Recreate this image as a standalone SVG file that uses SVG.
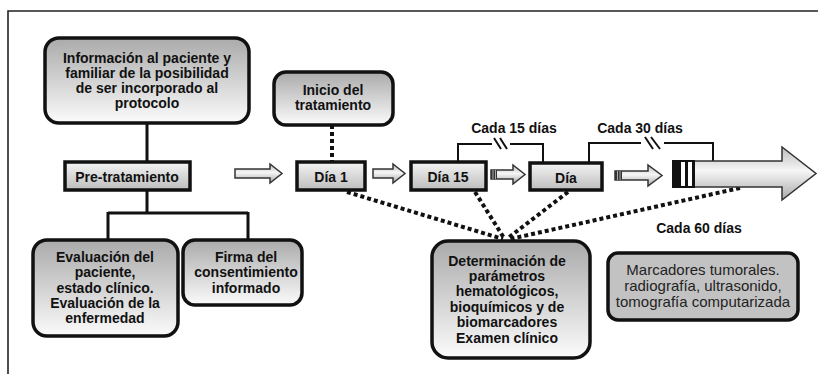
<svg xmlns="http://www.w3.org/2000/svg" width="818" height="374" viewBox="0 0 818 374">
<defs>
<linearGradient id="gBox" x1="0" y1="0" x2="0" y2="1">
<stop offset="0" stop-color="#aaaaaa"/><stop offset="1" stop-color="#fbfbfb"/>
</linearGradient>
<linearGradient id="gDay" x1="0" y1="0" x2="0" y2="1">
<stop offset="0" stop-color="#f4f4f4"/><stop offset="1" stop-color="#bdbdbd"/>
</linearGradient>
<linearGradient id="gArr" x1="0" y1="0" x2="0" y2="1">
<stop offset="0" stop-color="#bdbdbd"/><stop offset="0.45" stop-color="#f6f6f6"/><stop offset="1" stop-color="#a8a8a8"/>
</linearGradient>
<style>
.rb{fill:url(#gBox);stroke:#111;stroke-width:3.5}
.db{fill:url(#gDay);stroke:#111;stroke-width:3.5}
.t{font-family:"Liberation Sans",Arial,sans-serif;font-size:14px;font-weight:bold;fill:#111;text-anchor:middle}
.tn{font-family:"Liberation Sans",Arial,sans-serif;font-size:15px;fill:#222;text-anchor:middle}
.ln{fill:none;stroke:#111;stroke-width:3}
.ln2{fill:none;stroke:#111;stroke-width:2}
.dot{fill:none;stroke:#111;stroke-width:4;stroke-dasharray:4 3}
.ar{fill:url(#gArr);stroke:#333;stroke-width:1.5}
</style>
</defs>
<rect width="818" height="374" fill="#fff"/>
<path d="M8 374 V11 H818" fill="none" stroke="#222" stroke-width="1.6"/>

<g id="connectors">
<path class="ln" d="M147 123 V162"/>
<path class="ln" d="M147 190 V213 M108 213 H248 M108 212 V240 M248 212 V240"/>
<path class="dot" d="M332 125 V162"/>
<path class="ln2" d="M458 162 V144 H492 M510 144 H543 V162"/>
<path class="ln2" d="M494 138 L501 149 M500 138 L507 149"/>
<path class="ln2" d="M589 162 V143 H641 M664 143 H713 V161"/>
<path class="ln2" d="M645 137 L653 149 M651 137 L660 149"/>
<path class="dot" d="M347 192 L503 239"/>
<path class="dot" d="M475 192 L504 238"/>
<path class="dot" d="M568 192 L508 238"/>
<path class="dot" d="M740 188 L510 239"/>
<path id="arrow1" class="ar" d="M235 169 H270 V164 L282 173.5 L270 183 V178 H235 Z"/>
<path id="arrow2" class="ar" d="M373 169 H393 V164 L405 173.5 L393 183 V178 H373 Z"/>
<g id="arrow3">
<path class="ar" d="M491 170 H513 V165 L525 174.5 L513 184 V179 H491 Z"/>
<rect x="491" y="170" width="6" height="9" fill="#333"/>
<path d="M493 170 V179 M495.5 170 V179" stroke="#ccc" stroke-width="0.8"/>
</g>
<g id="arrow4">
<path class="ar" d="M615 171 H648 V165 L662 175.5 L648 186 V180 H615 Z"/>
<rect x="615" y="171" width="7" height="9" fill="#333"/>
<path d="M617.5 171 V180 M620 171 V180" stroke="#ccc" stroke-width="0.8"/>
</g>
<g id="bigArrow">
<path class="ar" stroke="#111" stroke-width="2.5" d="M694 161 H782 V147 L816 173.5 L782 200 V187 H694 Z"/>
<rect x="673" y="161" width="21" height="26" fill="#fff" stroke="#111" stroke-width="2"/>
<rect x="673" y="161" width="8" height="26" fill="#111"/>
<rect x="685" y="161" width="3" height="26" fill="#111"/>
<rect x="692" y="161" width="3" height="26" fill="#111"/>
</g>
</g>

<g id="info">
<rect class="rb" x="45" y="38" width="204" height="85" rx="14"/>
<text class="t" x="147" y="63">Información al paciente y</text>
<text class="t" x="147" y="78">familiar de la posibilidad</text>
<text class="t" x="147" y="93">de ser incorporado al</text>
<text class="t" x="147" y="108">protocolo</text>
</g>
<g id="pre">
<rect class="db" x="65" y="162" width="125" height="28"/>
<text class="t" x="127" y="182">Pre-tratamiento</text>
</g>
<g id="evaluacion">
<rect class="rb" x="33" y="240" width="145" height="96" rx="14"/>
<text class="t" x="105" y="262">Evaluación del</text>
<text class="t" x="105" y="277">paciente,</text>
<text class="t" x="105" y="293">estado clínico.</text>
<text class="t" x="105" y="308">Evaluación de la</text>
<text class="t" x="105" y="323">enfermedad</text>
</g>
<g id="firma">
<rect class="rb" x="183" y="240" width="119" height="65" rx="12"/>
<text class="t" x="246" y="262">Firma del</text>
<text class="t" x="246" y="277">consentimiento</text>
<text class="t" x="246" y="293">informado</text>
</g>
<g id="inicio">
<rect class="rb" x="274" y="72" width="119" height="53" rx="12"/>
<text class="t" x="333" y="95">Inicio del</text>
<text class="t" x="333" y="110">tratamiento</text>
</g>
<g id="dia1">
<rect class="db" x="297" y="162" width="68" height="28"/>
<text class="t" x="331" y="182">Día 1</text>
</g>
<g id="dia15">
<rect class="db" x="411" y="162" width="75" height="28"/>
<text class="t" x="448" y="182">Día 15</text>
</g>
<g id="dia">
<rect class="db" x="530" y="163" width="72" height="27"/>
<text class="t" x="566" y="183">Día</text>
</g>
<g id="labels">
<text class="t" x="514" y="133">Cada 15 días</text>
<text class="t" x="640" y="133">Cada 30 días</text>
<text class="t" x="699" y="233">Cada 60 días</text>
</g>
<g id="determinacion">
<rect class="rb" x="432" y="241" width="158" height="117" rx="16"/>
<text class="t" x="507" y="266">Determinación de</text>
<text class="t" x="507" y="281">parámetros</text>
<text class="t" x="507" y="296">hematológicos,</text>
<text class="t" x="507" y="312">bioquímicos y de</text>
<text class="t" x="507" y="327">biomarcadores</text>
<text class="t" x="507" y="343">Examen clínico</text>
</g>
<g id="marcadores">
<rect x="608" y="253" width="190" height="67" rx="10" fill="#c2c2c2" stroke="#111" stroke-width="3.5"/>
<text class="tn" x="703" y="275">Marcadores tumorales.</text>
<text class="tn" x="703" y="291">radiografía, ultrasonido,</text>
<text class="tn" x="703" y="307">tomografía computarizada</text>
</g>
</svg>
